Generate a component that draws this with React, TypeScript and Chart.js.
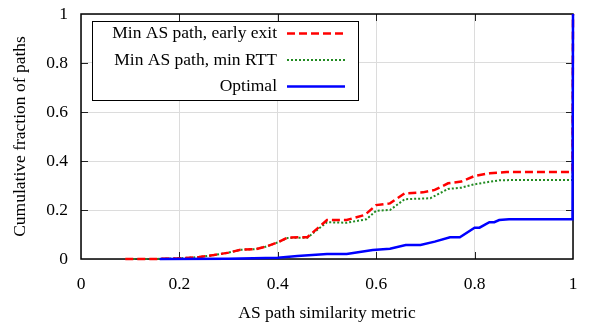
import React, { useEffect, useRef } from 'react';
import { Chart, registerables } from 'chart.js';

Chart.register(...registerables);

const seriesLabels = ['Min AS path, early exit', 'Min AS path, min RTT', 'Optimal'];

const earlyExitX = [0.09, 0.15, 0.2, 0.24, 0.27, 0.3, 0.325, 0.355, 0.375, 0.4, 0.42, 0.46, 0.5, 0.54, 0.577, 0.6, 0.628, 0.658, 0.695, 0.719, 0.746, 0.773, 0.8, 0.831, 0.865, 0.999, 1.0];
const earlyExitY = [0, 0, 0.003, 0.008, 0.016, 0.026, 0.038, 0.04, 0.05, 0.068, 0.088, 0.089, 0.159, 0.159, 0.18, 0.22, 0.227, 0.268, 0.272, 0.282, 0.309, 0.316, 0.339, 0.35, 0.355, 0.355, 1.0];

const minRttX = [0.09, 0.15, 0.2, 0.24, 0.27, 0.3, 0.325, 0.355, 0.375, 0.4, 0.42, 0.46, 0.5, 0.54, 0.58, 0.6, 0.628, 0.658, 0.71, 0.746, 0.773, 0.8, 0.83, 0.85, 0.87, 0.999, 1.0];
const minRttY = [0, 0, 0.003, 0.008, 0.016, 0.026, 0.038, 0.04, 0.05, 0.068, 0.086, 0.087, 0.15, 0.148, 0.162, 0.197, 0.2, 0.244, 0.248, 0.286, 0.291, 0.305, 0.315, 0.321, 0.322, 0.322, 1.0];

const optimalX = [0.16, 0.3, 0.4, 0.44, 0.5, 0.54, 0.593, 0.628, 0.66, 0.69, 0.719, 0.75, 0.77, 0.8, 0.81, 0.83, 0.84, 0.85, 0.87, 0.999, 1.0];
const optimalY = [0, 0.001, 0.005, 0.012, 0.02, 0.02, 0.037, 0.042, 0.057, 0.057, 0.071, 0.089, 0.089, 0.128, 0.128, 0.15, 0.15, 0.159, 0.162, 0.162, 1.0];

const innerTicks = [0.2, 0.4, 0.6, 0.8];
const xTitle = 'AS path similarity metric';
const yTitle = 'Cumulative fraction of paths';

const FONT = "'Liberation Serif', 'Times New Roman', serif";
const FS = 17.5;

const toPoints = (xs: number[], ys: number[]) => xs.map((x, i) => ({ x, y: ys[i] }));

const framePlugin = {
  id: 'frame',
  beforeDatasetsDraw(chart: any) {
    const { ctx, chartArea: a, scales } = chart;
    ctx.save();
    ctx.strokeStyle = '#222';
    ctx.lineWidth = 1;
    ctx.beginPath();
    for (const v of innerTicks) {
      const px = Math.round(scales.x.getPixelForValue(v)) + 0.5;
      ctx.moveTo(px, a.bottom);
      ctx.lineTo(px, a.bottom - 7);
      ctx.moveTo(px, a.top);
      ctx.lineTo(px, a.top + 7);
      const py = Math.round(scales.y.getPixelForValue(v)) + 0.5;
      ctx.moveTo(a.left, py);
      ctx.lineTo(a.left + 7, py);
      ctx.moveTo(a.right, py);
      ctx.lineTo(a.right - 7, py);
    }
    ctx.stroke();
    ctx.strokeStyle = '#000';
    ctx.lineWidth = 1.5;
    ctx.strokeRect(a.left, a.top, a.right - a.left, a.bottom - a.top);
    ctx.restore();
  },
};

const legendPlugin = {
  id: 'boxLegend',
  afterDatasetsDraw(chart: any) {
    const { ctx, chartArea: a } = chart;
    const left = a.left + 11;
    const top = a.top + 7;
    const w = 266;
    const h = 79;
    ctx.save();
    ctx.fillStyle = '#fff';
    ctx.fillRect(left, top, w, h);
    ctx.strokeStyle = '#000';
    ctx.lineWidth = 1;
    ctx.strokeRect(left + 0.5, top + 0.5, w, h);
    ctx.font = `${FS}px ${FONT}`;
    ctx.textAlign = 'right';
    ctx.textBaseline = 'middle';
    const order = [0, 1, 2];
    order.forEach((di, row) => {
      const ds = chart.data.datasets[di];
      const y = top + 12.5 + row * 26.5;
      ctx.fillStyle = '#000';
      ctx.fillText(ds.label, left + 185, y);
      ctx.beginPath();
      ctx.strokeStyle = ds.borderColor;
      ctx.lineWidth = ds.borderWidth;
      ctx.setLineDash(ds.borderDash || []);
      ctx.moveTo(left + 195, y);
      ctx.lineTo(left + 253, y);
      ctx.stroke();
    });
    ctx.restore();
  },
};

export default function App() {
  const ref = useRef<HTMLCanvasElement | null>(null);
  useEffect(() => {
    document.body.style.margin = '0';
    if (!ref.current) return;
    const chart = new Chart(ref.current, {
      type: 'line',
      data: {
        datasets: [
          {
            label: seriesLabels[0],
            data: toPoints(earlyExitX, earlyExitY),
            borderColor: '#ff0000',
            borderWidth: 2.5,
            borderDash: [8, 4],
            pointRadius: 0,
            tension: 0,
            fill: false,
            order: 1,
            clip: 4,
          },
          {
            label: seriesLabels[1],
            data: toPoints(minRttX, minRttY),
            borderColor: '#228b22',
            borderWidth: 2,
            borderDash: [2, 2],
            pointRadius: 0,
            tension: 0,
            fill: false,
            order: 2,
            clip: 4,
          },
          {
            label: seriesLabels[2],
            data: toPoints(optimalX, optimalY),
            borderColor: '#0000ff',
            borderWidth: 2.5,
            pointRadius: 0,
            tension: 0,
            fill: false,
            order: 0,
            clip: 4,
          },
        ] as any,
      },
      options: {
        animation: false,
        responsive: false,
        events: [],
        layout: { padding: { top: 14, right: 23, left: 0, bottom: 0 } },
        plugins: { legend: { display: false }, tooltip: { enabled: false } },
        scales: {
          x: {
            type: 'linear',
            min: 0,
            max: 1,
            afterFit: (s: any) => {
              s.height = 66;
            },
            ticks: {
              stepSize: 0.2,
              color: '#000',
              padding: 15,
              maxRotation: 0,
              font: { family: FONT, size: FS },
              callback: (v: any) => String(Math.round(Number(v) * 10) / 10),
            },
            grid: { color: '#dcdcdc', lineWidth: 1, drawTicks: false },
            border: { display: false },
            title: {
              display: true,
              text: xTitle,
              color: '#000',
              font: { family: FONT, size: FS },
              padding: { top: 0, bottom: 1 },
            },
          },
          y: {
            type: 'linear',
            min: 0,
            max: 1,
            afterFit: (s: any) => {
              s.width = 81;
              s.paddingTop = 0;
              s.paddingBottom = 0;
            },
            ticks: {
              stepSize: 0.2,
              color: '#000',
              padding: 13,
              font: { family: FONT, size: FS },
              callback: (v: any) => String(Math.round(Number(v) * 10) / 10),
            },
            grid: { color: '#dcdcdc', lineWidth: 1, drawTicks: false },
            border: { display: false },
            title: {
              display: true,
              text: yTitle,
              color: '#000',
              font: { family: FONT, size: FS },
              padding: { top: 10, bottom: 0 },
            },
          },
        },
      } as any,
      plugins: [framePlugin, legendPlugin],
    });
    return () => chart.destroy();
  }, []);
  return (
    <div style={{ position: 'absolute', left: 0, top: 0, width: 596, height: 325, background: '#fff' }}>
      <canvas ref={ref} width={596} height={325} />
    </div>
  );
}
